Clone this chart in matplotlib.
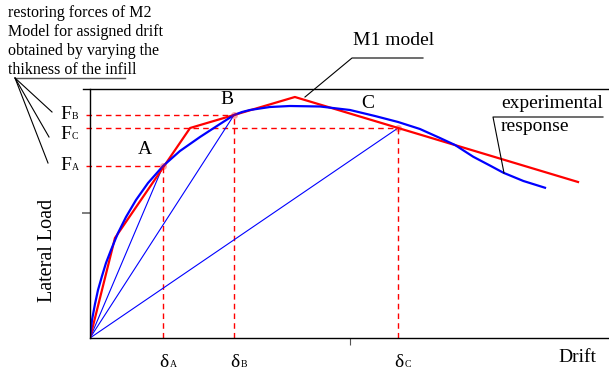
import numpy as np
import matplotlib.pyplot as plt
from matplotlib.lines import Line2D

plt.rcParams['font.family'] = ['Liberation Serif', 'DejaVu Serif']

# M1 model: multilinear envelope
m1_drift = [0.0, 0.096, 0.385, 0.788, 1.877]
m1_load = [0.0, 0.80, 1.68, 1.928, 1.248]

# experimental response
exp_drift = [0.0, 0.0077, 0.0192, 0.0308, 0.0462, 0.0615, 0.0808, 0.1077, 0.1385,
             0.1769, 0.2231, 0.281, 0.346, 0.423, 0.500, 0.554, 0.585, 0.615,
             0.692, 0.769, 0.885, 1.000, 1.096, 1.185, 1.269, 1.346, 1.404, 1.474,
             1.538, 1.590, 1.667, 1.750]
exp_load = [0.0, 0.144, 0.272, 0.384, 0.496, 0.600, 0.704, 0.840, 0.968,
            1.104, 1.240, 1.376, 1.496, 1.608, 1.712, 1.784, 1.808, 1.824,
            1.848, 1.856, 1.852, 1.824, 1.776, 1.728, 1.672, 1.600, 1.544, 1.450,
            1.380, 1.322, 1.256, 1.202]

# assigned drifts and M2 restoring forces
pt_names = ['A', 'B', 'C']
pt_drift = [0.281, 0.554, 1.185]
pt_load = [1.376, 1.784, 1.680]

W, H = 609, 372
fig = plt.figure(figsize=(W / 100, H / 100), dpi=100)


def fx(x):
    return x / W


def fy(y):
    return 1 - y / H


def fline(xs, ys, **kw):
    fig.add_artist(Line2D([fx(v) for v in xs], [fy(v) for v in ys],
                          transform=fig.transFigure, **kw))


ax = fig.add_axes([fx(90), fy(338), 1 - fx(90), fy(89) - fy(338)])
ax.set_xlim(0, 519 / 260)
ax.set_ylim(0, 249 / 125)
for s in ['top', 'right']:
    ax.spines[s].set_visible(False)
for s in ['left', 'bottom']:
    ax.spines[s].set_linewidth(1.0)
ax.set_xticks([1.0])
ax.set_yticks([1.0])
ax.set_xticklabels([])
ax.set_yticklabels([])
ax.tick_params(axis='x', length=5, width=0.8, color='#555555', direction='out')
ax.tick_params(axis='y', length=5.5, width=1.2, color='#666666', direction='out')

# frame top line
fline([83, 609], [89, 89], color='black', lw=1.0)

# dashed guides
for d, f in zip(pt_drift, pt_load):
    ax.plot([-0.016, d], [f, f], color='red', lw=1.0, ls=(0, (4, 3)), clip_on=False)
    ax.plot([d, d], [0, f], color='red', lw=1.0, ls=(0, (4, 3)))

# secant stiffness lines
for d, f in zip(pt_drift, pt_load):
    ax.plot([0, d], [0, f], color='blue', lw=0.8)

ax.plot(m1_drift, m1_load, color='red', lw=1.6)
ax.plot(exp_drift, exp_load, color='blue', lw=1.6, solid_joinstyle='round')
ax.plot(pt_drift, pt_load, 'o', color='red', alpha=0.35, ms=5, mec='none')

# point labels
lbl_pos = [(145, 149), (227, 99), (368, 103)]
for n, (x, y) in zip(pt_names, lbl_pos):
    fig.text(fx(x), fy(y), n, size=14, ha='center', va='center')


def sub_text(x, y, main, sub):
    fig.text(fx(x), fy(y), main, size=14, ha='left', va='baseline')
    dx = 12 if main == 'F' else 11
    fig.text(fx(x + dx), fy(y), sub, size=7, ha='left', va='baseline')


sub_text(60, 119, 'F', 'B')
sub_text(60, 139, 'F', 'C')
sub_text(60, 170, 'F', 'A')
for n, d in zip(pt_names, pt_drift):
    x0 = 90 + d * 260
    sub_text(x0 - 4, 367, 'δ', n)

fig.text(fx(47), fy(250), 'Lateral Load', size=14.5, rotation=90,
         ha='center', va='center')
fig.text(fx(577), fy(358), 'Drift', size=14, ha='center', va='center')

# M2 note and its leaders
note = ['restoring forces of M2', 'Model for assigned drift',
        'obtained by varying the', 'thikness of the infill']
for i, t in enumerate(note):
    fig.text(fx(8), fy(17 + i * 19), t, size=11.5, ha='left', va='baseline')
fline([15, 125], [78, 78], color='#555555', lw=1.0)
for ex, ey in [(52, 112), (49, 137), (48, 163)]:
    fline([15, ex], [78, ey], color='black', lw=0.8)

# M1 model callout
fig.text(fx(353), fy(45), 'M1 model', size=14, ha='left', va='baseline')
fline([305, 352, 423], [97, 58, 58], color='black', lw=0.8)

# experimental response callout
fig.text(fx(501), fy(108), 'experimental', size=14, ha='left', va='baseline')
fig.text(fx(501), fy(131), 'response', size=14, ha='left', va='baseline')
fline([504, 493, 603], [173, 117, 117], color='black', lw=0.8)

fig.savefig('out.png', dpi=100)
